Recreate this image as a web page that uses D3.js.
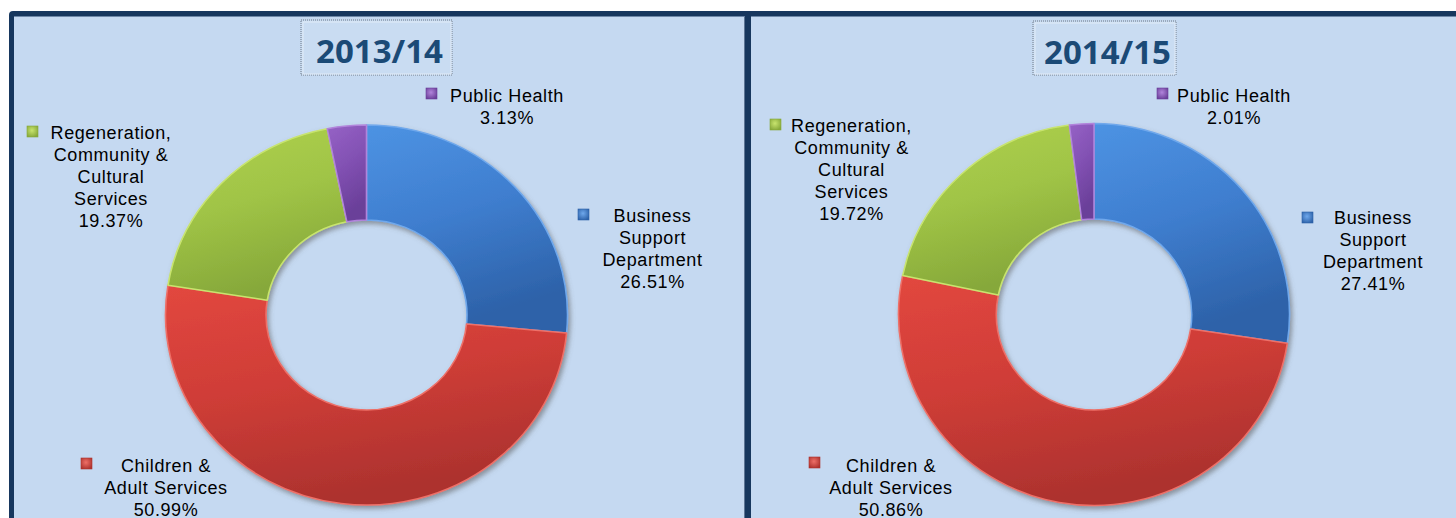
<!DOCTYPE html>
<html>
<head>
<meta charset="utf-8">
<script src="https://cdn.jsdelivr.net/npm/d3@7/dist/d3.min.js"></script>
<style>
  body { margin: 0; background: #fff; }
  svg { display: block; }
</style>
</head>
<body>
<script>
// data
const years = ["2013/14", "2014/15"];
const categories = ["Business Support Department", "Children & Adult Services",
  "Regeneration, Community & Cultural Services", "Public Health"];
const labelLines = [["Business", "Support", "Department"], ["Children &", "Adult Services"],
  ["Regeneration,", "Community &", "Cultural", "Services"], ["Public Health"]];
const values2013 = [26.51, 50.99, 19.37, 3.13];
const values2014 = [27.41, 50.86, 19.72, 2.01];
const seriesValues = [values2013, values2014];

const colors = [
  { top: "#4d93e3", mid: "#3f7ecf", bot: "#2d62a9", edge: "#6fa8ec" },
  { top: "#e2473f", mid: "#cf3d37", bot: "#ad322e", edge: "#ee6f67" },
  { top: "#b0d24e", mid: "#a0c446", bot: "#86a83a", edge: "#c8e46e" },
  { top: "#9662c6", mid: "#8251b3", bot: "#6a3f99", edge: "#b184db" }
];

const w = 1456, h = 518;

// layout of each panel (donut ellipse, title box, label anchors)
const panels = [
  { x0: 14, x1: 745, cx: 366.5, cy: 315, rx: 201, ry: 190,
    box: [301, 20, 151, 55],
    labels: [
      { mx: 578, my: 209, tx: 652.5, y: 222 },
      { mx: 81, my: 458, tx: 166, y: 472 },
      { mx: 27, my: 126, tx: 111, y: 139 },
      { mx: 426, my: 88, tx: 507, y: 102 }
    ] },
  { x0: 751, x1: 1456, cx: 1094, cy: 314.5, rx: 195.5, ry: 191,
    box: [1033, 21, 143, 54],
    labels: [
      { mx: 1302, my: 212, tx: 1373, y: 224 },
      { mx: 809, my: 457, tx: 891, y: 472 },
      { mx: 770, my: 119, tx: 851.5, y: 132 },
      { mx: 1157, my: 88, tx: 1234, y: 102 }
    ] }
];

const svg = d3.select("body").append("svg")
  .attr("width", w)
  .attr("height", h);

const defs = svg.append("defs");
colors.forEach((c, i) => {
  const g = defs.append("linearGradient")
    .attr("id", "grad" + i)
    .attr("gradientUnits", "objectBoundingBox")
    .attr("x1", 0).attr("y1", 0).attr("x2", 0.3).attr("y2", 1);
  g.append("stop").attr("offset", "0%").attr("stop-color", c.top);
  g.append("stop").attr("offset", "50%").attr("stop-color", c.mid);
  g.append("stop").attr("offset", "100%").attr("stop-color", c.bot);
  const m = defs.append("radialGradient")
    .attr("id", "mark" + i)
    .attr("cx", "45%").attr("cy", "40%").attr("r", "65%");
  m.append("stop").attr("offset", "0%").attr("stop-color", c.edge);
  m.append("stop").attr("offset", "100%").attr("stop-color", c.bot);
});
const shadow = defs.append("filter").attr("id", "shadow")
  .attr("x", "-10%").attr("y", "-10%").attr("width", "120%").attr("height", "120%");
shadow.append("feDropShadow")
  .attr("dx", 2).attr("dy", 3).attr("stdDeviation", 2.5)
  .attr("flood-color", "#555").attr("flood-opacity", 0.55);

// dark frame
svg.append("rect")
  .attr("x", 9).attr("y", 11)
  .attr("width", w + 20).attr("height", h + 20)
  .attr("rx", 4)
  .attr("fill", "#17375e");

const pie = d3.pie().sort(null).value(d => d);
const fmt = d3.format(".2f");

panels.forEach((p, pi) => {
  svg.append("rect")
    .attr("x", p.x0).attr("y", 16.5)
    .attr("width", p.x1 - p.x0).attr("height", h)
    .attr("fill", "#c5d9f1");

  // title box
  const [bx, by, bw, bh] = p.box;
  svg.append("rect")
    .attr("x", bx).attr("y", by).attr("width", bw).attr("height", bh)
    .attr("fill", "#c9dcf2")
    .attr("stroke", "#9aa9bb")
    .attr("stroke-width", 2)
    .attr("stroke-dasharray", "1,1");
  svg.append("rect")
    .attr("x", bx + 2).attr("y", by + 2).attr("width", bw - 3).attr("height", bh - 3)
    .attr("fill", "none")
    .attr("stroke", "#e1ebf7")
    .attr("stroke-width", 1);
  svg.append("text")
    .attr("x", bx + bw / 2 + 3).attr("y", by + 43)
    .attr("text-anchor", "middle")
    .attr("font-family", "'Open Sans', sans-serif")
    .attr("font-weight", "bold")
    .attr("font-size", 33)
    .attr("fill", "#1b4a76")
    .text(years[pi]);

  // donut
  const arc = d3.arc().innerRadius(p.ry * 0.5).outerRadius(p.ry);
  const g = svg.append("g")
    .attr("transform", `translate(${p.cx},${p.cy}) scale(${p.rx / p.ry},1)`)
    .attr("filter", "url(#shadow)");
  g.selectAll("path.slice")
    .data(pie(seriesValues[pi]))
    .enter()
    .append("path")
    .attr("class", "slice")
    .attr("d", arc)
    .attr("fill", (d, i) => `url(#grad${i})`)
    .attr("stroke", (d, i) => colors[i].edge)
    .attr("stroke-width", 1.5)
    .attr("stroke-linejoin", "round");

  // labels
  const lab = svg.selectAll(null)
    .data(seriesValues[pi])
    .enter()
    .append("g");
  lab.append("rect")
    .attr("x", (d, i) => p.labels[i].mx)
    .attr("y", (d, i) => p.labels[i].my)
    .attr("width", 11).attr("height", 11)
    .attr("fill", (d, i) => `url(#mark${i})`)
    .attr("stroke", (d, i) => colors[i].bot)
    .attr("stroke-width", 0.6);
  lab.each(function (d, i) {
    const lines = labelLines[i].concat([fmt(d) + "%"]);
    d3.select(this).selectAll("text")
      .data(lines)
      .enter()
      .append("text")
      .attr("x", p.labels[i].tx)
      .attr("y", (t, j) => p.labels[i].y + j * 22)
      .attr("text-anchor", "middle")
      .attr("font-family", "'Liberation Sans', Arial, sans-serif")
      .attr("font-size", 18)
      .attr("letter-spacing", 0.6)
      .attr("fill", "#000")
      .text(t => t);
  });
});

// divider highlight
svg.append("rect")
  .attr("x", 744).attr("y", 16.5).attr("width", 1).attr("height", h)
  .attr("fill", "#5d7595");
</script>
</body>
</html>
